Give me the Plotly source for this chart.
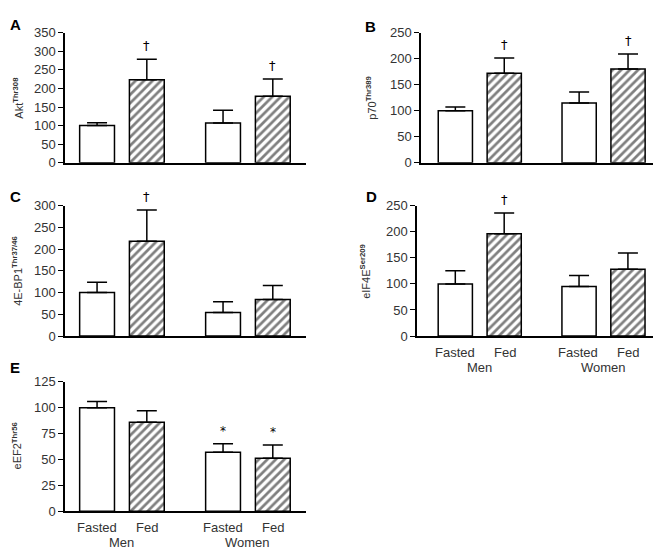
import plotly.graph_objects as go

W, H = 661, 552

groups = ["Men", "Women"]
conditions = ["Fasted", "Fed"]

panel_letters = ["A", "B", "C", "D", "E"]
y_titles = [
    "Akt<sup><b>Thr308</b></sup>",
    "p70<sup><b>Thr389</b></sup>",
    "4E-BP1<sup><b>Thr37/46</b></sup>",
    "eIF4E<sup><b>Ser209</b></sup>",
    "eEF2<sup><b>Thr56</b></sup>",
]
y_max = [350, 250, 300, 250, 125]
y_dtick = [50, 50, 50, 50, 25]

# values: [Men, Women]
fasted_vals = [[100, 107], [100, 115], [100, 54], [100, 95], [100, 57]]
fasted_err = [[8, 34], [7, 21], [24, 25], [25, 21], [6, 8]]
fed_vals = [[223, 179], [172, 180], [218, 84], [196, 128], [86, 51]]
fed_err = [[55, 46], [29, 29], [72, 32], [40, 31], [11, 13]]
# significance marks: [Men, Women]
fasted_marks = [["", ""], ["", ""], ["", ""], ["", ""], ["", "*"]]
fed_marks = [["†", "†"], ["†", "†"], ["†", ""], ["†", ""], ["", "*"]]

# layout boxes in pixels: (x0, x1, ytop, ybottom), x range
boxes = [
    (57, 298, 18, 152, [-0.452, 1.461]),
    (413, 655, 18, 152, [-0.475, 1.480]),
    (57, 298, 196, 330, [-0.452, 1.461]),
    (409, 655, 196, 330, [-0.507, 1.481]),
    (57, 298, 377, 510, [-0.452, 1.461]),
]
letter_pos = [(7, 10), (362, 12), (7, 187), (363, 187), (7, 362)]
ytitle_x = [10, 363, 9, 357, 9]
show_cats = [False, False, False, True, True]

FONT = "Liberation Sans, Arial, sans-serif"
TXT = "#333333"

fig = go.Figure()
annotations = []
layout = {}

for i in range(5):
    n = "" if i == 0 else str(i + 1)
    xa, ya = "x" + n, "y" + n
    x0, x1, yt, yb, xr = boxes[i]
    fig.add_trace(go.Bar(
        x=groups, y=fasted_vals[i], xaxis=xa, yaxis=ya,
        marker=dict(color="white", line=dict(color="black", width=1.5)),
        error_y=dict(type="data", symmetric=False, array=fasted_err[i],
                     arrayminus=[0, 0], color="black", thickness=1.5, width=10),
        showlegend=False, name="Fasted", offsetgroup="a",
    ))
    fig.add_trace(go.Bar(
        x=groups, y=fed_vals[i], xaxis=xa, yaxis=ya,
        marker=dict(color="white", line=dict(color="black", width=1.5),
                    pattern=dict(shape="/", fgcolor="black", bgcolor="white",
                                 fillmode="overlay", size=6, solidity=0.45)),
        error_y=dict(type="data", symmetric=False, array=fed_err[i],
                     arrayminus=[0, 0], color="black", thickness=1.5, width=10),
        showlegend=False, name="Fed", offsetgroup="b",
    ))
    layout["xaxis" + n] = dict(
        domain=[x0 / W, x1 / W], anchor=ya, range=xr, type="category",
        showline=True, linecolor="black", linewidth=1.5, showticklabels=False,
        ticks="", showgrid=False, zeroline=False, fixedrange=True,
    )
    layout["yaxis" + n] = dict(
        domain=[1 - yb / H, 1 - yt / H], anchor=xa, range=[0, y_max[i]],
        dtick=y_dtick[i], showline=True, linecolor="black", linewidth=1.5,
        ticks="outside", ticklen=5, tickcolor="black", tickwidth=1.2,
        showgrid=False, zeroline=False,
        tickfont=dict(family=FONT, size=13, color=TXT),
    )
    # y title as rotated annotation
    annotations.append(dict(
        text=y_titles[i], xref="paper", yref="paper",
        x=ytitle_x[i] / W, y=1 - (yt + yb) / 2 / H, textangle=-90,
        showarrow=False, font=dict(family=FONT, size=11, color=TXT),
        xanchor="center", yanchor="middle",
    ))
    # panel letter
    lx, ly = letter_pos[i]
    annotations.append(dict(
        text="<b>%s</b>" % panel_letters[i], xref="paper", yref="paper",
        x=lx / W, y=1 - ly / H, showarrow=False,
        font=dict(family=FONT, size=15, color="black"),
        xanchor="center", yanchor="middle",
    ))
    # significance marks
    for g in range(2):
        for marks, vals, errs, sh in ((fasted_marks, fasted_vals, fasted_err, -25),
                                      (fed_marks, fed_vals, fed_err, 25)):
            m = marks[i][g]
            if m:
                annotations.append(dict(
                    text=m, xref=xa, yref=ya, x=groups[g],
                    y=vals[i][g] + errs[i][g], xshift=sh, yshift=4,
                    showarrow=False, yanchor="bottom",
                    font=dict(family="DejaVu Sans, sans-serif",
                              size=13 if m == "†" else 12, color="#000000"),
                ))
    # category labels
    if show_cats[i]:
        for g in range(2):
            for c, sh in zip(conditions, (-25, 25)):
                annotations.append(dict(
                    text=c, xref=xa, yref="paper", x=groups[g], xshift=sh,
                    y=1 - (yb + 17) / H, showarrow=False,
                    font=dict(family=FONT, size=13, color=TXT),
                    xanchor="center", yanchor="middle",
                ))
            annotations.append(dict(
                text=groups[g], xref=xa, yref="paper", x=groups[g],
                y=1 - (yb + 32) / H, showarrow=False,
                font=dict(family=FONT, size=13, color=TXT),
                xanchor="center", yanchor="middle",
            ))

fig.update_layout(
    width=W, height=H, margin=dict(l=0, r=0, t=0, b=0),
    paper_bgcolor="white", plot_bgcolor="white",
    barmode="group", bargap=0.21, bargroupgap=0.3,
    annotations=annotations, showlegend=False,
    font=dict(family=FONT, color=TXT),
    **layout,
)

fig.write_html("out.html")
